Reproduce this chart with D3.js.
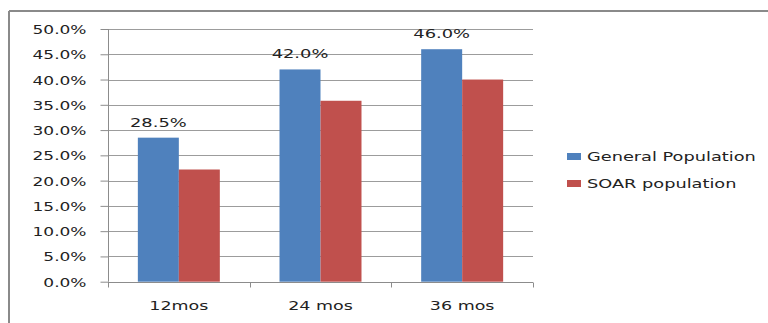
<!DOCTYPE html>
<html><head><meta charset="utf-8">
<script src="https://cdn.jsdelivr.net/npm/d3@7"></script>
<style>
html,body{margin:0;padding:0;background:#fff;}
svg{display:block;}
text{font-family:"DejaVu Sans",Verdana,sans-serif;fill:#222;}
</style></head>
<body>
<svg id="c" width="768" height="323"></svg>
<script>
const categories = ["12mos", "24 mos", "36 mos"];
const seriesNames = ["General Population", "SOAR population"];
const generalValues = [28.5, 42.0, 46.0];
const soarValues = [22.2, 35.8, 40.0];
const yTicks = [0, 5, 10, 15, 20, 25, 30, 35, 40, 45, 50];
const colors = ["#4F81BD", "#C0504D"];

(function () {
const svg = d3.select("#c");
const W = 768, H = 323;
const pLeft = 108, pRight = 533, pTop = 29, pBottom = 281.7;

// frame
svg.append("line").attr("x1", 9).attr("x2", W).attr("y1", 11).attr("y2", 11)
  .attr("stroke", "#8a8a8a").attr("stroke-width", 2);
svg.append("line").attr("x1", 9).attr("x2", 9).attr("y1", 11).attr("y2", H)
  .attr("stroke", "#8a8a8a").attr("stroke-width", 2);

const x0 = d3.scaleBand().domain(categories).range([pLeft, pRight]).paddingInner(0).paddingOuter(0);
const x1 = d3.scaleBand().domain(seriesNames).range([0, x0.bandwidth()]).paddingInner(0).paddingOuter(0.728);
const y = d3.scaleLinear().domain([0, 50]).range([pBottom, pTop]);

// gridlines
svg.append("g").selectAll("line").data(yTicks.filter(d => d > 0)).join("line")
  .attr("x1", pLeft).attr("x2", pRight)
  .attr("y1", d => Math.round(y(d)) + 0.5).attr("y2", d => Math.round(y(d)) + 0.5)
  .attr("stroke", "#9c9c9c").attr("stroke-width", 1);

// y axis
const yAxis = svg.append("g").attr("transform", `translate(${pLeft + 0.5},0)`)
  .call(d3.axisLeft(y).tickValues(yTicks).tickSize(8).tickFormat(d => d.toFixed(1) + "%"));
yAxis.select(".domain").attr("stroke", "#8c8c8c").attr("d", `M0,${y(0)}V${y(50)}`);
yAxis.selectAll(".tick line").attr("stroke", "#8c8c8c");
yAxis.selectAll(".tick text").remove();
yAxis.selectAll(".tick").append("g").attr("transform", "translate(-22,0) scale(1.36,1)")
  .append("text").attr("text-anchor", "end").attr("dy", "0.36em")
  .style("font-size", "12.5px").text(d => d.toFixed(1) + "%");

// bars
const data = categories.map((c, i) => ({cat: c, vals: [generalValues[i], soarValues[i]]}));
const groups = svg.append("g").selectAll("g").data(data).join("g")
  .attr("transform", d => `translate(${x0(d.cat)},0)`);
groups.selectAll("rect").data(d => d.vals.map((v, j) => ({v, s: seriesNames[j], j}))).join("rect")
  .attr("x", d => x1(d.s)).attr("width", x1.bandwidth())
  .attr("y", d => y(d.v)).attr("height", d => y(0) - y(d.v))
  .attr("fill", d => colors[d.j]);

// data labels for general population
groups.append("g")
  .attr("transform", d => `translate(${x1(seriesNames[0]) + x1.bandwidth() / 2},${y(d.vals[0]) - 11}) scale(1.43,1)`)
  .append("text").attr("text-anchor", "middle").style("font-size", "12.5px")
  .text(d => d.vals[0].toFixed(1) + "%");

// x axis
const xAxis = svg.append("g").attr("transform", `translate(0,${Math.round(pBottom) + 0.5})`);
xAxis.append("line").attr("x1", pLeft).attr("x2", pRight).attr("stroke", "#8c8c8c");
xAxis.selectAll("line.t").data(categories.concat(["_end"])).join("line").attr("class", "t")
  .attr("x1", (d, i) => Math.round(pLeft + i * x0.step()) + 0.5)
  .attr("x2", (d, i) => Math.round(pLeft + i * x0.step()) + 0.5)
  .attr("y1", 0).attr("y2", 5).attr("stroke", "#8c8c8c");
xAxis.selectAll("g.lbl").data(categories).join("g").attr("class", "lbl")
  .attr("transform", d => `translate(${x0(d) + x0.bandwidth() / 2},${310 - Math.round(pBottom) - 0.5}) scale(1.4,1)`)
  .append("text").attr("text-anchor", "middle").style("font-size", "12.5px").text(d => d);

// legend
const lg = svg.append("g").selectAll("g").data(seriesNames).join("g")
  .attr("transform", (d, i) => `translate(567,${153 + i * 27})`);
lg.append("rect").attr("width", 14).attr("height", 7).attr("fill", (d, i) => colors[i]);
lg.append("g").attr("transform", "translate(20,8) scale(1.42,1)")
  .append("text").style("font-size", "12.5px").text(d => d);
})();
</script>
</body></html>
